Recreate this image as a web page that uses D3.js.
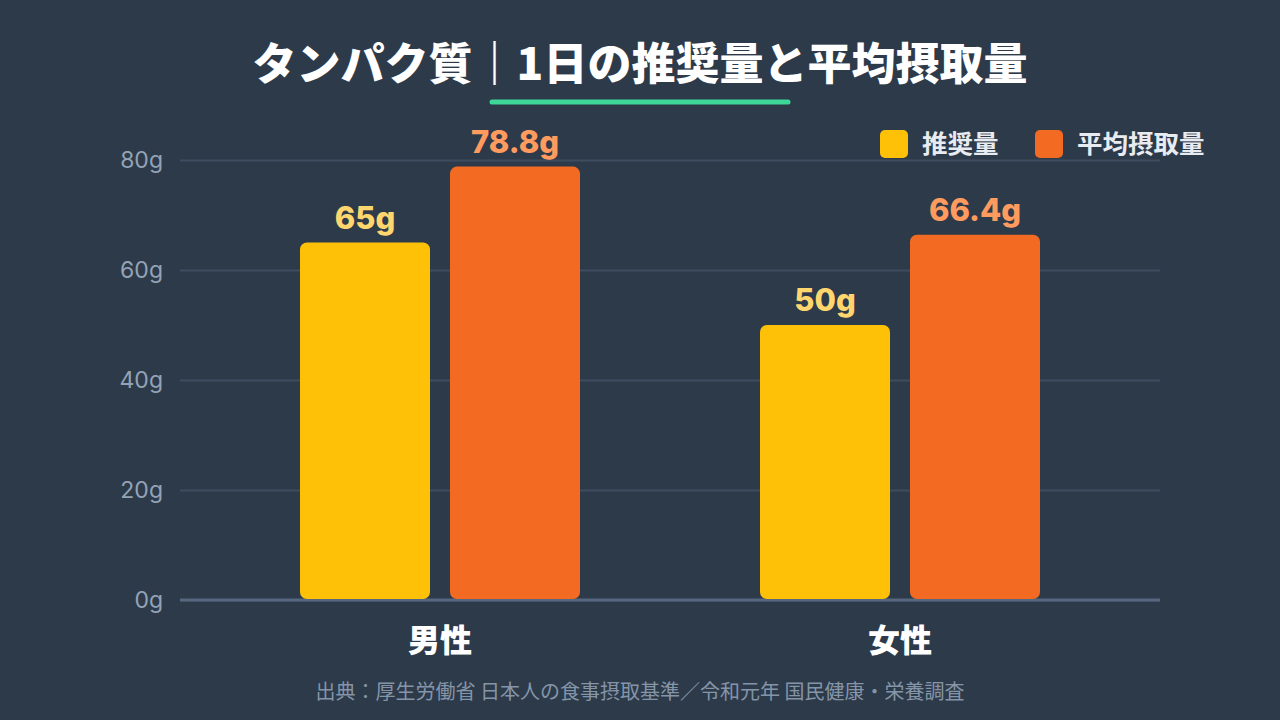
<!DOCTYPE html>
<html lang="ja">
<head>
<meta charset="utf-8">
<title>タンパク質｜1日の推奨量と平均摂取量</title>
<script src="https://cdn.jsdelivr.net/npm/d3@7"></script>
<style>
    html, body { margin: 0; padding: 0; background: #2d3a4a; }
    svg { display: block; }
    text { font-family: "Noto Sans CJK JP", "Noto Sans", sans-serif; }
    .num { font-family: "Inter", "Noto Sans", sans-serif; }
</style>
</head>
<body>
<svg id="chart" width="1280" height="720"></svg>
<script>
const categories = ['男性', '女性'];
const seriesNames = ['推奨量', '平均摂取量'];
const recommended = [65, 50];
const average = [78.8, 66.4];
const yTicks = [0, 20, 40, 60, 80];

document.addEventListener('DOMContentLoaded', function () {
    const svg = d3.select('#chart');
    const colors = ['#ffc107', '#f36b22'];
    const labelColors = ['#ffd66e', '#ff9b5e'];
    const seriesValues = [recommended, average];

    svg.append('rect')
        .attr('width', 1280)
        .attr('height', 720)
        .attr('fill', '#2d3a4a');

    // タイトル
    svg.append('text')
        .attr('x', 640)
        .attr('y', 80)
        .attr('text-anchor', 'middle')
        .attr('font-size', 44)
        .attr('font-weight', 900)
        .attr('fill', '#ffffff')
        .text('タンパク質｜1日の推奨量と平均摂取量');

    svg.append('line')
        .attr('x1', 492).attr('x2', 788)
        .attr('y1', 102).attr('y2', 102)
        .attr('stroke', '#3dd598')
        .attr('stroke-width', 5)
        .attr('stroke-linecap', 'round');

    const y = d3.scaleLinear().domain([0, 80]).range([600, 160]);
    const x0 = d3.scaleBand().domain(categories).range([210, 1130]);
    const x1 = d3.scaleBand().domain(seriesNames).range([0, 280]).paddingInner(20 / 150);

    // グリッド線と目盛り
    const axis = svg.append('g')
        .attr('transform', 'translate(180,0)')
        .call(d3.axisLeft(y)
            .tickValues(yTicks)
            .tickSize(-980)
            .tickPadding(17)
            .tickFormat(d => d + 'g'));
    axis.select('.domain').remove();
    axis.selectAll('.tick line')
        .attr('stroke', '#3e4c60')
        .attr('stroke-width', 2);
    axis.selectAll('.tick text')
        .attr('class', 'num')
        .attr('font-size', 23)
        .attr('fill', '#94a3b6');

    svg.append('line')
        .attr('x1', 180).attr('x2', 1160)
        .attr('y1', y(0)).attr('y2', y(0))
        .attr('stroke', '#56677e')
        .attr('stroke-width', 3);

    // 棒
    categories.forEach((cat, i) => {
        const gx = x0(cat) + x0.bandwidth() / 2 - 140;
        seriesNames.forEach((s, j) => {
            const v = seriesValues[j][i];
            svg.append('rect')
                .attr('x', gx + x1(s))
                .attr('y', y(v))
                .attr('width', x1.bandwidth())
                .attr('height', y(0) - y(v) - 1)
                .attr('rx', 7)
                .attr('fill', colors[j]);

            svg.append('text')
                .attr('class', 'num')
                .attr('x', gx + x1(s) + x1.bandwidth() / 2)
                .attr('y', y(v) - 14)
                .attr('text-anchor', 'middle')
                .attr('font-size', 31)
                .attr('font-weight', 800)
                .attr('fill', labelColors[j])
                .text(v + 'g');
        });

        svg.append('text')
            .attr('x', x0(cat) + x0.bandwidth() / 2)
            .attr('y', 652)
            .attr('text-anchor', 'middle')
            .attr('font-size', 32)
            .attr('font-weight', 900)
            .attr('fill', '#ffffff')
            .text(cat);
    });

    // 凡例
    const legendX = [880, 1035];
    seriesNames.forEach((s, j) => {
        svg.append('rect')
            .attr('x', legendX[j])
            .attr('y', 130)
            .attr('width', 28)
            .attr('height', 28)
            .attr('rx', 5)
            .attr('fill', colors[j]);
        svg.append('text')
            .attr('x', legendX[j] + 42)
            .attr('y', 153)
            .attr('font-size', 25.5)
            .attr('font-weight', 700)
            .attr('fill', '#e8ecf1')
            .text(s);
    });

    // 出典
    svg.append('text')
        .attr('x', 640)
        .attr('y', 699)
        .attr('text-anchor', 'middle')
        .attr('font-size', 20)
        .attr('fill', '#8595a8')
        .text('出典：厚生労働省 日本人の食事摂取基準／令和元年 国民健康・栄養調査');
});
</script>
</body>
</html>
